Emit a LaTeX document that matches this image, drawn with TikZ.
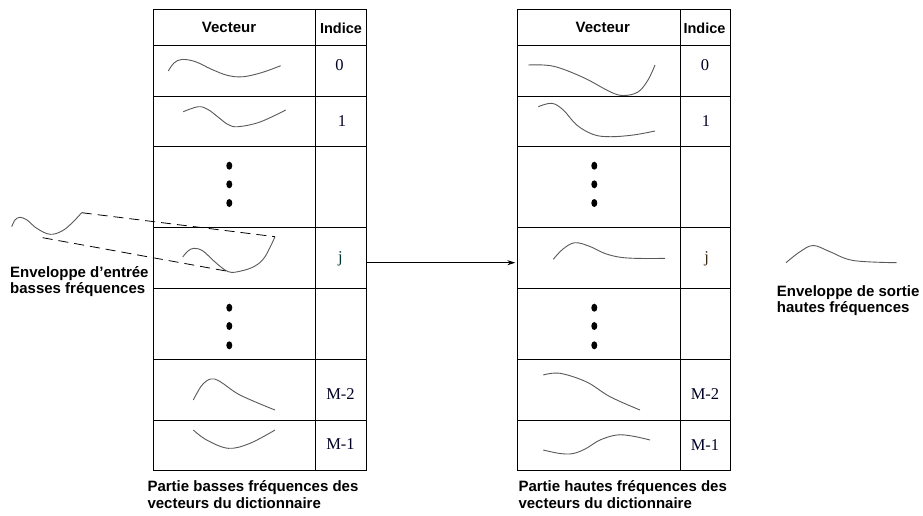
\documentclass[tikz,border=0pt]{standalone}
\usepackage{fontspec}
\setmainfont{Liberation Serif}
\setsansfont{Liberation Sans}
\usetikzlibrary{arrows.meta}
\tikzset{
  cell/.style={draw=black, line width=0.8pt, rectangle, inner sep=0pt},
  hdr/.style={font=\sffamily\bfseries\fontsize{15}{17}\selectfont, anchor=base, inner sep=0pt},
  idx/.style={font=\fontsize{16.5}{18}\selectfont, anchor=base, inner sep=0pt, text=black!85!blue},
  captxt/.style={font=\sffamily\bfseries\fontsize{15}{17}\selectfont, anchor=base west, inner sep=0pt},
  curve/.style={draw=black!65, line width=0.9pt},
  dashline/.style={draw=black, line width=0.8pt, dash pattern=on 10pt off 6pt},
  vdot/.style={fill=black}
}
\newcommand\drawtable[4]{%
  \foreach \n/\t/\b in {h/9.5/45, r0/45/96.3, r1/96.3/146.7, d1/146.7/227.7, rj/227.7/288.3, d2/288.3/359.3, m2/359.3/420, m1/420/470}{
    \node[cell, minimum width={#3-#2}, minimum height={\b-\t}] (#1\n-v) at ({(#2+#3)/2},{(\t+\b)/2}) {};
    \node[cell, minimum width={#4-#3}, minimum height={\b-\t}] (#1\n-i) at ({(#3+#4)/2},{(\t+\b)/2}) {};
  }}
\begin{document}
\begin{tikzpicture}[x=1pt,y=-1pt]
\useasboundingbox (0,0) rectangle (923,515);
\fill[white] (0,0) rectangle (923,515);

% tables
\drawtable{L}{153.3}{315.7}{366.7}
\drawtable{R}{517.7}{680.3}{730}

% headers
\node[hdr] (LhvT) at (229,32.7) {Vecteur};
\node[hdr, font=\sffamily\bfseries\fontsize{14.5}{17}\selectfont] (LhiT) at (341,33.3) {Indice};
\node[hdr] (RhvT) at (602.8,32.7) {Vecteur};
\node[hdr, font=\sffamily\bfseries\fontsize{14.5}{17}\selectfont] (RhiT) at (704.5,33.3) {Indice};

% indices left
\node[idx] (L0) at (339.5,70.8) {0};
\node[idx] (L1) at (342,126.5) {1};
\node[idx, text=black!60!teal] (Lj) at (340.5,262.5) {j};
\node[idx] (Lm2) at (340.5,399.3) {M-2};
\node[idx] (Lm1) at (340.5,449.5) {M-1};
% indices right
\node[idx] (R0) at (705,70.7) {0};
\node[idx] (R1) at (706,126) {1};
\node[idx, text=black!70!brown] (Rj) at (706.7,262) {j};
\node[idx] (Rm2) at (705,399.3) {M-2};
\node[idx] (Rm1) at (705,450) {M-1};

% dots
\foreach \x in {229.3, 594.3}{
  \foreach \y in {165.7,184.3,203,307.7,326,345.3}{
    \fill[vdot] (\x,\y) ellipse [x radius=3pt, y radius=4pt];
  }}

% left curves
\draw[curve] plot[smooth, tension=0.6] coordinates {(168.3,71) (174,63) (181.7,59.5) (195,61.5) (212,69.5) (228,75.5) (243.3,76.7) (262,72.5) (280.7,65.7)};
\draw[curve] plot[smooth, tension=0.6] coordinates {(183.3,111.7) (198.3,106.7) (208,109.5) (218,117) (228,124.5) (238,126.7) (260,122) (285.7,110)};
\draw[curve] plot[smooth, tension=0.6] coordinates {(182.7,257) (188,251) (194,248.3) (203,251) (215,262) (228.3,271.7) (241,271) (255,266) (265,256.7) (275,236.7)};
\draw[curve] plot[smooth, tension=0.6] coordinates {(193.3,400) (201.7,385.5) (210.7,379) (220,381.5) (240,395) (275,410)};
\draw[curve] plot[smooth, tension=0.6] coordinates {(193.3,430) (206.7,440) (228.3,448.3) (250,443.3) (275,430)};

% right curves
\draw[curve] plot[smooth, tension=0.6] coordinates {(528.3,65) (553.3,66.2) (583.3,77.5) (610,91.7) (623.3,95.5) (638,92) (648,80) (655,65)};
\draw[curve] plot[smooth, tension=0.6] coordinates {(538.3,106.7) (551.7,103.3) (563.3,110) (576.7,125) (593.3,134.5) (610,136.7) (633.3,135) (655,131)};
\draw[curve] plot[smooth, tension=0.6] coordinates {(553.3,259.3) (563,249) (575,242.7) (590,246.5) (605,253.5) (622,257.5) (645,258.5) (665,258.3)};
\draw[curve] plot[smooth, tension=0.6] coordinates {(543.3,375) (560,373.3) (586.7,382) (610,396.7) (640,410)};
\draw[curve] plot[smooth, tension=0.6] coordinates {(543.3,450) (560,453.5) (573.3,453.5) (586,448.5) (600,440) (616.7,435) (632,436) (650,440)};

% input envelope
\coordinate (inA) at (81.7,212.7);
\coordinate (inB) at (42.7,237.7);
\coordinate (jA) at (275,236.7);
\coordinate (jB) at (230,271.7);
\draw[curve] plot[smooth, tension=0.6] coordinates {(11.7,226.7) (15,220) (20,217.3) (27,220) (37,228.5) (50,234.3) (62,231) (72,223) (81.7,212.7)};
\draw[dashline] (inA) -- (jA);
\draw[dashline] (inB) -- (jB);

% output envelope
\draw[curve] plot[smooth, tension=0.6] coordinates {(786,262.7) (800,251.7) (813.3,245.5) (830,251.7) (853.3,260.5) (896.7,262.7)};

% arrow
\draw[line width=0.8pt, -{Stealth[length=8pt,width=5pt]}] ([yshift=-4.7pt]Lrj-i.east) -- ([yshift=-4.7pt, xshift=-2pt]Rrj-v.west);

% captions
\node[captxt] (inc1) at (10,277.3) {Enveloppe d{\char"27}entrée};
\node[captxt] (inc2) at (10,293.3) {basses fréquences};
\node[captxt] (outc1) at (776.7,296.7) {Enveloppe de sortie};
\node[captxt] (outc2) at (776.7,312.7) {hautes fréquences};
\node[captxt] (lc1) at (147.3,491.7) {Partie basses fréquences des};
\node[captxt] (lc2) at (147.3,508.3) {vecteurs du dictionnaire};
\node[captxt] (rc1) at (518.3,491.7) {Partie hautes fréquences des};
\node[captxt] (rc2) at (518.3,508.3) {vecteurs du dictionnaire};
\end{tikzpicture}
\end{document}
